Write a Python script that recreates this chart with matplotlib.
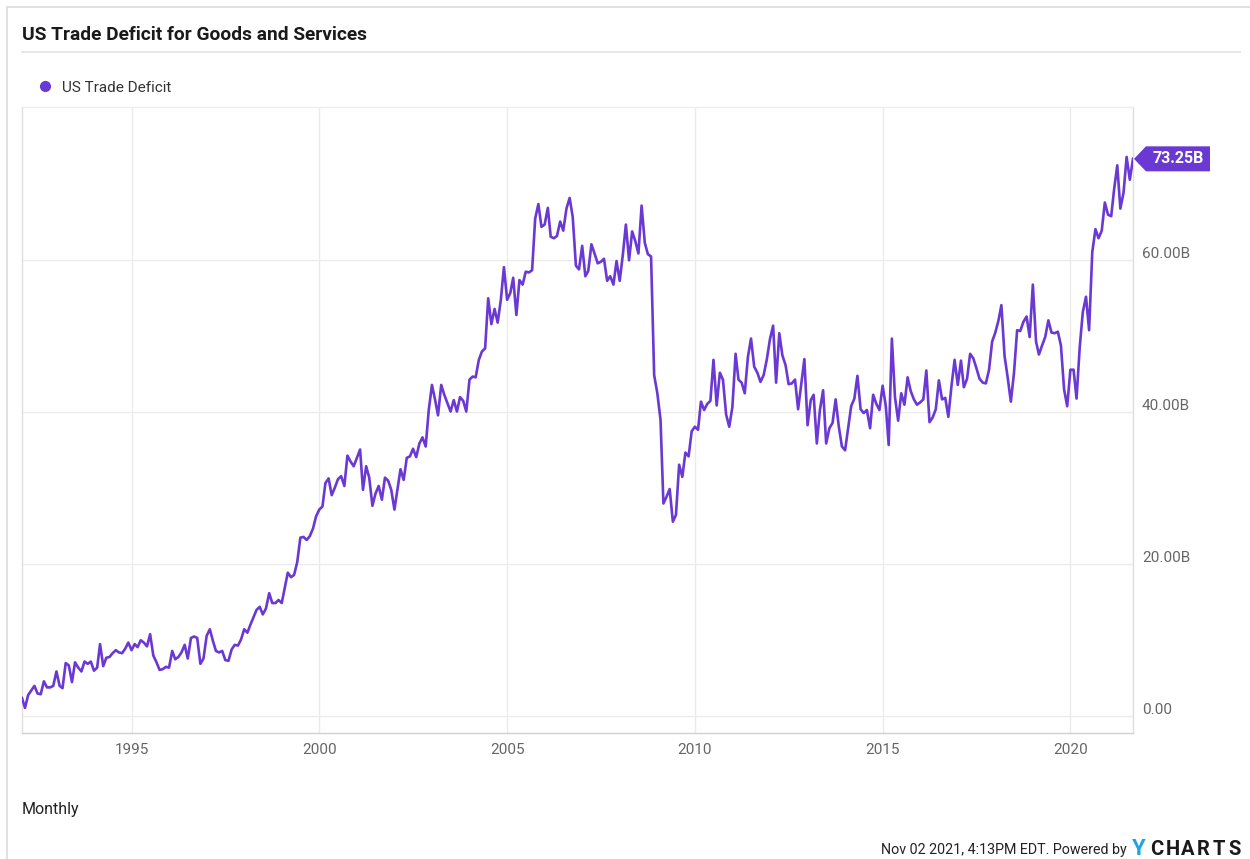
import matplotlib
matplotlib.use('Agg')
import matplotlib.pyplot as plt
import pandas as pd
import matplotlib.dates as mdates
from matplotlib.patches import Polygon
from matplotlib.lines import Line2D
from matplotlib.transforms import IdentityTransform

# Monthly US trade deficit (billions USD), Jan 1992 - Aug 2021
deficit_1992_1999 = [
    2.3, 1.0, 2.7, 3.3, 3.9, 2.9, 2.8, 4.5, 3.7, 3.7, 3.9, 5.8,
    3.9, 3.6, 6.9, 6.6, 4.4, 7.0, 6.3, 5.8, 7.1, 6.8, 7.1, 5.9,
    6.3, 9.4, 6.5, 7.6, 7.7, 8.2, 8.6, 8.3, 8.2, 8.8, 9.6, 8.6,
    9.4, 9.0, 9.9, 9.6, 9.1, 10.7, 7.9, 7.0, 6.0, 6.1, 6.4, 6.3,
    8.5, 7.4, 7.7, 8.3, 9.3, 7.5, 10.2, 10.4, 10.2, 6.8, 7.5, 10.5,
    11.35, 9.9, 8.5, 8.3, 8.5, 7.3, 7.2, 8.7, 9.3, 9.2, 10.0, 11.35,
    10.9, 11.9, 12.9, 13.9, 14.3, 13.3, 14.1, 16.1, 14.8, 14.8, 15.2, 14.8,
    16.9, 18.8, 18.2, 18.5, 20.2, 23.4, 23.5, 23.1, 23.6, 24.6, 26.2, 27.1,
]
deficit_2000_2009 = [
    27.5, 30.6, 31.2, 29.0, 30.0, 31.1, 31.5, 30.2, 34.2, 33.4, 32.8, 33.9,
    35.0, 29.7, 32.8, 31.3, 27.6, 29.2, 30.2, 28.4, 31.3, 30.9, 29.7, 27.1,
    29.9, 32.4, 31.0, 33.9, 34.1, 35.1, 34.0, 35.8, 36.6, 35.4, 40.2, 43.5,
    41.5, 39.5, 43.5, 42.2, 41.1, 40.0, 41.5, 40.0, 41.9, 41.4, 40.0, 44.2,
    44.6, 44.5, 46.8, 47.9, 48.3, 54.9, 51.5, 53.5, 51.7, 54.7, 59.0, 54.7,
    55.6, 57.6, 52.7, 57.3, 56.7, 58.4, 58.3, 58.6, 65.4, 67.3, 64.3, 64.6,
    66.8, 63.0, 62.8, 63.1, 65.0, 63.8, 66.7, 68.1, 65.6, 59.2, 58.7, 61.8,
    57.8, 58.5, 62.0, 60.8, 59.5, 59.7, 60.1, 57.2, 57.8, 56.7, 59.8, 57.2,
    60.7, 64.6, 59.9, 63.7, 62.4, 60.8, 67.1, 62.2, 60.7, 60.4, 44.8, 42.4,
    38.9, 27.9, 28.8, 29.8, 25.5, 26.4, 33.0, 31.4, 34.6, 34.1, 37.4, 38.0,
]
deficit_2010_2021 = [
    37.6, 41.3, 40.2, 41.0, 41.4, 46.8, 40.8, 45.1, 44.2, 39.6, 38.0, 40.6,
    47.6, 44.2, 43.8, 42.4, 47.2, 49.6, 45.9, 45.1, 43.9, 44.8, 46.8, 49.5,
    51.3, 43.8, 50.3, 47.4, 46.1, 43.6, 43.7, 44.2, 40.3, 43.7, 46.9, 38.2,
    41.5, 42.2, 35.8, 40.2, 42.8, 35.8, 37.8, 38.5, 41.6, 38.0, 35.4, 34.9,
    38.0, 40.7, 41.7, 44.7, 40.3, 39.8, 40.2, 37.8, 42.2, 41.0, 40.2, 43.4,
    40.7, 35.6, 49.6, 41.9, 38.8, 42.4, 40.9, 44.5, 42.7, 41.6, 40.9, 41.2,
    41.6, 45.4, 38.6, 39.2, 40.3, 44.1, 41.6, 41.8, 39.3, 43.4, 46.8, 43.5,
    46.7, 43.2, 44.3, 47.6, 47.0, 45.7, 44.3, 43.8, 43.7, 45.5, 49.2, 50.4,
    52.0, 54.0, 47.3, 44.5, 41.3, 45.0, 50.7, 50.6, 51.8, 52.5, 49.8, 56.7,
    49.2, 47.5, 48.7, 49.8, 52.0, 50.4, 50.3, 50.5, 48.7, 42.9, 40.7, 45.5,
    45.5, 41.7, 48.5, 53.1, 55.1, 50.7, 61.0, 64.0, 62.8, 63.8, 67.5, 65.9,
    65.7, 69.2, 72.4, 66.7, 68.8, 73.5, 70.5, 73.25,
]
values = deficit_1992_1999 + deficit_2000_2009 + deficit_2010_2021
dates = pd.date_range('1992-01-01', periods=len(values), freq='MS') + pd.offsets.MonthEnd(0)

year_ticks = [1995, 2000, 2005, 2010, 2015, 2020]
y_ticks = [0, 20, 40, 60]
y_tick_labels = ['0.00', '20.00B', '40.00B', '60.00B']
series_name = 'US Trade Deficit'
title = 'US Trade Deficit for Goods and Services'
last_label = '73.25B'

PURPLE = '#6a38d2'
GRID = '#ebebeb'
W, H = 1250, 859

plt.rcParams['font.family'] = ['Roboto', 'DejaVu Sans']
fig = plt.figure(figsize=(W / 100, H / 100), dpi=100)


def fx(px):
    return px / W


def fy(py):
    return 1 - py / H


ax = fig.add_axes([fx(22), fy(733), fx(1133) - fx(22), fy(107) - fy(733)])
ax.plot(dates, values, color=PURPLE, lw=1.9, solid_joinstyle='round', zorder=3)
ax.set_xlim(dates[0], dates[-1])
ax.set_ylim(-2.3, 80.07)

ax.set_xticks([pd.Timestamp(f'{y}-01-01') for y in year_ticks])
ax.set_xticklabels([str(y) for y in year_ticks])
ax.set_yticks(y_ticks)
ax.set_yticklabels([])
ax.tick_params(axis='both', length=0)
ax.tick_params(axis='x', colors='#666666', labelsize=11, pad=7)
ax.grid(True, color=GRID, lw=1, zorder=0)
for side, col in [('left', '#e0e0e0'), ('right', '#dddddd'), ('top', '#eeeeee'), ('bottom', '#d0d0d0')]:
    ax.spines[side].set_color(col)
    ax.spines[side].set_linewidth(1)

for v, lbl in zip(y_ticks, y_tick_labels):
    ax.annotate(lbl, xy=(1, v), xycoords=('axes fraction', 'data'),
                xytext=(9 * 0.72, 1.5 * 0.72), textcoords='offset points',
                ha='left', va='baseline', fontsize=11, color='#666666',
                annotation_clip=False)

# Title, separator, legend
fig.text(fx(22), fy(33), title, fontsize=13.8, fontweight='bold', ha='left',
         va='center_baseline', color='#1a1a1a')
fig.add_artist(Line2D([fx(22), fx(1240)], [fy(52), fy(52)], color='#e3e3e3', lw=1.2))
fig.add_artist(Line2D([fx(45)], [fy(86)], marker='o', ms=7, color=PURPLE, lw=0))
fig.text(fx(62), fy(86), series_name, fontsize=11, ha='left', va='center_baseline', color='#333333')

# Card frame
fig.add_artist(Line2D([fx(7), fx(1250)], [fy(7), fy(7)], color='#dcdcdc', lw=1.2))
fig.add_artist(Line2D([fx(7), fx(7)], [fy(7), fy(859)], color='#dcdcdc', lw=1.2))

# Footer
fig.text(fx(22), fy(808), 'Monthly', fontsize=11.5, ha='left', va='center_baseline', color='#222222')
fig.text(fx(1127), fy(854), 'Nov 02 2021, 4:13PM EDT. Powered by', fontsize=10.3, ha='right',
         va='baseline', color='#222222')
fig.text(fx(1139), fy(855), 'Y', fontsize=16, fontweight='bold', ha='center', va='baseline', color='#1fa4e0')
for i, ch in enumerate('CHARTS'):
    fig.text(fx(1157 + 15.5 * i), fy(855), ch, fontsize=14.5, fontweight='bold', ha='center',
             va='baseline', color='#1a1a1a')

# Last value tag
fig.canvas.draw()
xd = mdates.date2num(dates[-1])
px, py = ax.transData.transform((xd, values[-1]))
hh = 12.5
tip = px + 1
box_l, box_r = tip + 12, tip + 76
tag = Polygon([(tip, py), (box_l, py + hh), (box_r, py + hh), (box_r, py - hh), (box_l, py - hh)],
              closed=True, transform=IdentityTransform(), facecolor=PURPLE, edgecolor='none', zorder=5)
fig.add_artist(tag)
fig.text((box_l + box_r) / 2 / W, py / H, last_label, fontsize=11.5, fontweight='bold',
         ha='center', va='center', color='white', zorder=6)

fig.savefig('out.png', dpi=100)
